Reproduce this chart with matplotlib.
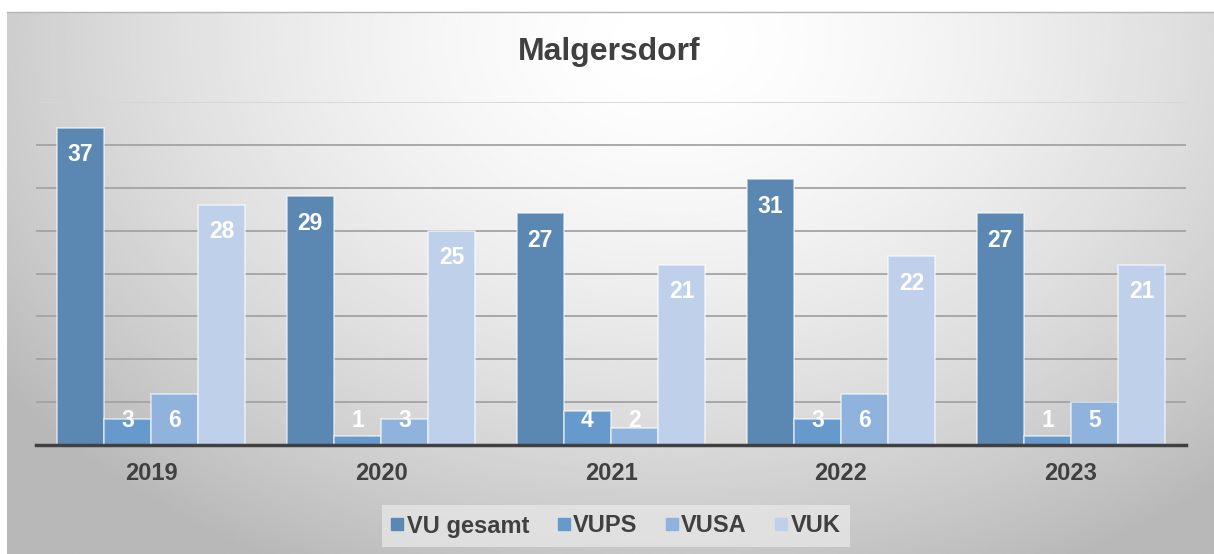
import numpy as np
import matplotlib.pyplot as plt
from matplotlib.lines import Line2D

jahre = ["2019", "2020", "2021", "2022", "2023"]
serien = ["VU gesamt", "VUPS", "VUSA", "VUK"]
vu_gesamt = [37, 29, 27, 31, 27]
vups = [3, 1, 4, 3, 1]
vusa = [6, 3, 2, 6, 5]
vuk = [28, 25, 21, 22, 21]
werte = [vu_gesamt, vups, vusa, vuk]
farben = ["#5b88b2", "#6699cc", "#8fb3dd", "#bfd1ea"]

plt.rcParams['font.family'] = ['Liberation Sans', 'DejaVu Sans']

fig = plt.figure(figsize=(12.14, 5.54), dpi=100)
fig.patch.set_facecolor("white")

# Hintergrund mit radialem Verlauf
bg = fig.add_axes([7 / 1214, 0, 1 - 7 / 1214, 542 / 554], zorder=-10)
yy, xx = np.mgrid[0:1:300j, 0:1:600j]
r = np.sqrt(((xx - 0.55) / 0.72) ** 2 + ((yy - 0.05) / 1.15) ** 2)
grau = np.clip(1.0 - 0.3 * r ** 1.6, 0.72, 1.0)
bg.imshow(grau, cmap="gray", vmin=0, vmax=1, aspect="auto",
          extent=[0, 1, 1, 0], interpolation="bilinear")
bg.set_xticks([])
bg.set_yticks([])
for s in ["left", "right", "bottom"]:
    bg.spines[s].set_visible(False)
bg.spines["top"].set_color("#b4b4b4")
bg.spines["top"].set_linewidth(1)

ax = fig.add_axes([36 / 1214, 109 / 554, 1150 / 1214, 343 / 554])
ax.patch.set_alpha(0)

x = np.arange(len(jahre))
breite = 0.205
for i, (vals, farbe) in enumerate(zip(werte, farben)):
    pos = x + (i - 1.5) * breite
    ax.bar(pos, vals, width=breite, color=farbe, edgecolor=(1, 1, 1, 0.6),
           linewidth=1.2, zorder=3, label=serien[i])
    for px, v in zip(pos, vals):
        ax.text(px, max(v - 3.15, 2.8), str(v), ha="center", va="center",
                color="white", fontsize=16.5, fontweight="bold", zorder=4)

ax.set_xlim(-0.5, 4.5)
ax.set_ylim(0, 40)
ax.set_yticks(range(5, 41, 5))
ax.yaxis.grid(True, color="#a3a3a3", linewidth=1.3)
ax.get_ygridlines()[-1].set_color("#d6d6d6")
ax.set_axisbelow(True)
ax.tick_params(axis="y", left=False, labelleft=False)
ax.set_xticks(x)
ax.set_xticklabels(jahre, fontsize=17, fontweight="bold", color="#404040")
ax.tick_params(axis="x", length=0, pad=12)
for s in ["left", "right", "top"]:
    ax.spines[s].set_visible(False)
ax.spines["bottom"].set_color("#404040")
ax.spines["bottom"].set_linewidth(2.5)
ax.spines["bottom"].set_zorder(5)

fig.text(609 / 1214, 1 - 52 / 554, "Malgersdorf", ha="center", va="center",
         fontsize=23, fontweight="bold", color="#404040")

handles = [Line2D([], [], marker="s", linestyle="none", markersize=8,
                  markerfacecolor=f, markeredgecolor=f) for f in farben]
leg = fig.legend(handles, serien, loc="center", ncol=4,
                 bbox_to_anchor=(616 / 1214, 1 - 526 / 554),
                 prop={"size": 17, "weight": "bold"}, frameon=True,
                 handlelength=0.5, handletextpad=0.15, columnspacing=1.2,
                 borderpad=0.4, fancybox=False)
leg.get_frame().set_facecolor("#e6e6e6")
leg.get_frame().set_edgecolor("none")
leg.get_frame().set_alpha(0.8)
for t in leg.get_texts():
    t.set_color("#404040")

plt.savefig("out.png", dpi=100)
